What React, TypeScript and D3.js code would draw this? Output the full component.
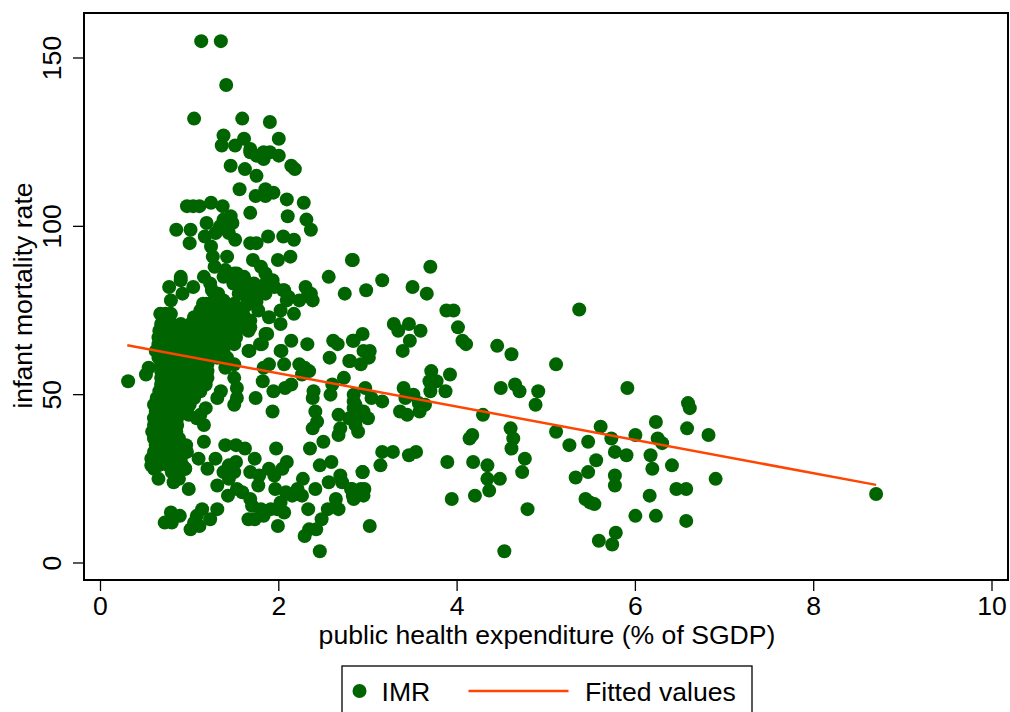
import React from "react";
import * as d3 from "d3";

type P = [number, number];

const xTicks = [0, 2, 4, 6, 8, 10];
const yTicks = [0, 50, 100, 150];
const xTitle = "public health expenditure (% of SGDP)";
const yTitle = "infant mortality rate";
const legendLabels = ["IMR", "Fitted values"];
const fitted: P[] = [[0.3, 64.7], [8.7, 23.2]];

const imrHigh: P[] = [[1.13,155],[1.35,155],[1.41,142],[1.05,132],[1.59,132],[1.9,131],[1.38,127],[2,126],[1.36,124],[1.51,124],[1.61,126],[1.68,123],[1.68,122],[1.75,121],[1.83,120],[1.83,122],[1.9,122],[2,121],[2.14,118],[2.18,117],[1.46,118],[1.62,117],[1.75,115],[1.56,111],[1.85,111],[1.94,110],[1.74,109],[1.85,109],[2.09,108],[2.28,107],[0.97,106],[1.04,106],[1.11,106],[1.24,107],[1.37,106],[1.68,104],[2.1,103],[2.31,102],[2.36,99],[0.85,99],[1.01,99],[1.19,101],[1.46,103],[1.48,101],[1.38,102],[1.34,100],[1.42,99],[1,95],[1.17,97],[1.29,98],[1.44,98],[1.51,96],[1.68,95],[1.75,95],[1.88,97],[2.05,97],[2.17,96],[1.24,94],[1.26,91],[1.42,91],[1.71,90],[1.99,90],[2.13,91],[2.82,90],[1.28,88],[1.4,87],[1.5,86],[1.61,85],[1.8,88],[1.85,86],[1.93,84],[2.56,85],[0.9,85],[1.16,85],[1.23,83],[0.77,82],[1.04,82],[1.38,85],[1.57,83],[1.72,83],[2.06,81],[2.3,82],[2.74,80],[0.9,84],[0.92,80],[0.79,78],[2.36,80],[2.38,78],[2.11,79],[2.23,78],[2.17,74],[2.02,75],[1.89,73],[2.02,71],[0.73,74],[0.67,74],[0.79,74]];

const imrCluster: P[] = [[1.83,82.5],[1.73,80],[1.85,80],[1.64,82],[1.64,79],[1.75,77.6],[1.64,76.6],[1.77,75],[1.55,80],[1.49,83],[1.42,85.5],[1.32,80],[1.27,78],[1.19,77],[1.38,78],[1.49,76],[1.6,74],[1.68,72],[2.05,81],[2.33,80],[2.09,78],[1.95,82],[1.25,81],[1.53,86],[1.79,65],[1.85,68],[1.66,63],[2.02,63]];

const imrDenseUpper: P[] = [[1.15,77],[1.27,77],[1.38,77],[1.5,77],[1.12,75],[1.23,75],[1.35,75],[1.46,75],[1.57,75],[1.05,73],[1.16,73],[1.27,73],[1.38,73],[1.5,73],[1.6,73],[0.68,71],[0.79,71],[0.9,71],[1.01,71],[1.12,71],[1.23,71],[1.35,71],[1.46,71],[1.57,71],[0.66,69],[0.76,69],[0.87,69],[0.98,69],[1.09,69],[1.2,69],[1.31,69],[1.42,69],[1.53,69],[1.66,69],[0.65,67],[0.75,67],[0.86,67],[0.97,67],[1.08,67],[1.19,67],[1.3,67],[1.41,67],[1.52,67],[0.65,65],[0.72,65],[0.83,65],[0.94,65],[1.05,65],[1.16,65],[1.27,65],[1.38,65],[1.5,65],[0.62,63],[0.72,63],[0.83,63],[0.94,63],[1.05,63],[1.16,63],[1.27,63],[1.38,63],[0.65,61],[0.76,61],[0.87,61],[0.98,61],[1.09,61],[1.2,61],[1.31,61],[1.42,61]];

const imrDenseLower: P[] = [[0.68,59],[0.76,59],[0.85,59],[0.94,59],[1.03,59],[1.12,59],[1.2,59],[0.68,57],[0.76,57],[0.85,57],[0.94,57],[1.03,57],[1.12,57],[1.2,57],[0.68,55],[0.76,55],[0.85,55],[0.94,55],[1.03,55],[1.12,55],[1.2,55],[0.68,53],[0.76,53],[0.85,53],[0.94,53],[1.03,53],[1.12,53],[1.18,53],[0.66,51],[0.75,51],[0.84,51],[0.93,51],[1.02,51],[1.12,51],[0.63,49],[0.72,49],[0.81,49],[0.9,49],[0.99,49],[1.05,49],[0.6,47],[0.68,47],[0.76,47],[0.85,47],[0.94,47],[1,47],[0.62,45],[0.7,45],[0.78,45],[0.86,45],[0.6,43],[0.68,43],[0.76,43],[0.86,43],[0.6,41],[0.68,41],[0.76,41],[0.86,41],[0.58,39],[0.65,39],[0.73,39],[0.85,39],[0.6,37],[0.68,37],[0.76,37],[0.88,37],[0.62,35],[0.7,35],[0.78,35],[0.86,35],[0.96,35],[0.6,33],[0.68,33],[0.76,33],[0.86,33],[0.97,33],[0.57,31],[0.65,31],[0.73,31],[0.84,31],[0.9,31],[0.57,29],[0.65,29],[0.76,29],[0.84,29],[0.92,29],[0.6,28],[0.8,28],[0.88,28],[0.95,28],[0.8,27],[0.87,27]];

const imrMiddle: P[] = [[0.54,58],[0.51,56],[0.31,54],[1.5,59],[1.4,58],[1.5,55],[1.53,52],[1.53,49],[1.5,47],[1.35,51],[1.31,49],[1.74,49],[1.93,45],[1.82,54],[1.94,51],[2.07,52],[2.14,53],[1.89,59],[1.83,58],[2.06,59],[2.23,59],[2.29,58],[2.34,57],[2.26,56],[2.03,63],[2.14,66],[2.32,65],[2.57,61],[2.61,66],[2.66,65],[2.83,66],[2.79,60],[2.73,55],[2.6,53],[2.58,50],[2.39,51],[2.38,49],[2.41,45],[2.43,42],[2.38,40],[2.67,44],[2.69,40],[2.67,38],[2.79,43],[2.86,41],[2.86,47],[2.92,45],[2.5,36],[2.35,34],[1.67,63],[1.81,65],[1.87,68],[1.68,70],[1.18,46],[1.12,44],[1.16,41],[0.99,44],[1.08,43]];

const imrLow: P[] = [[1.16,36],[1.4,35],[1.52,35],[1.62,34],[1.97,34],[1.73,31],[2.09,30],[1.29,31],[1.1,31],[1.2,28],[1.52,30],[1.44,29],[1.38,27],[1.5,27],[1.44,25],[1.31,23],[0.99,22],[0.65,25],[0.82,24],[0.88,25],[0.95,28],[1.68,27],[1.78,26],[1.89,28],[1.95,26],[2.04,28],[1.77,23],[2.27,25],[2.21,22],[1.96,22],[2.08,21],[2.15,20],[2.26,20],[2.41,22],[2.46,29],[2.59,30],[2.56,24],[2.69,26],[2.71,24],[2.81,22],[2.92,22],[2.83,20],[2.64,19],[2.67,16],[2.33,16],[2.55,16],[2.48,13],[2.42,10],[2.34,10],[2.29,8],[2.46,3.5],[2.94,27],[1.43,20],[1.53,22],[1.59,21],[1.68,19],[1.7,17],[1.83,14],[1.8,16],[1.91,16],[2.02,18],[2.06,15],[1.98,16],[1.66,13],[1.73,13],[1.99,11],[0.79,15],[0.89,14],[0.72,12],[0.8,12],[1.14,16],[1.08,14],[1.31,16],[1.23,13],[1.11,11],[1.01,10],[1.05,12]];

const imrRightCluster: P[] = [[2.83,90],[3.16,84],[2.98,81],[3.5,82],[3.66,80],[3.7,88],[3.88,75],[3.96,75],[4.01,70],[4.06,66],[4.1,65],[3.29,71],[3.34,69],[3.46,71],[3.59,69],[3.47,66],[3.39,63],[4.45,64.5],[4.61,62],[5.37,75.3],[5.11,59],[2.94,68],[2.84,66],[2.95,63],[3.02,63],[3.01,61],[2.92,59],[2.8,60],[3.71,57],[3.92,56],[3.77,54],[3.69,54],[3.7,51],[3.87,51],[3.4,52],[3.51,50],[3.42,49],[3.57,47.5],[3.64,47],[3.58,45],[3.36,45],[3.44,44],[3.16,48],[3.04,49],[2.97,52],[2.84,48],[2.95,45],[3,43],[2.86,42],[2.89,39],[2.84,50],[2.84,46],[4.29,44],[4.49,52],[4.65,53],[4.7,51],[4.91,51],[4.88,47],[5.91,52],[4.6,40],[4.63,37],[4.61,34],[4.76,31],[4.73,27],[4.17,38],[4.14,37],[3.16,33],[3.28,33],[3.14,29],[3.46,32],[3.54,33],[2.94,27],[2.96,22],[2.95,20],[2.82,22],[2.84,19],[3.89,30],[4.18,30],[4.34,29],[4.34,25],[4.48,25],[4.36,21.5],[4.2,20],[3.94,19],[4.79,16],[3.02,11],[4.53,3.5]];

const imrFar: P[] = [[5.11,39],[5.26,35],[5.47,36],[5.61,40.5],[5.73,37],[5.77,33],[5.9,32],[6,38],[5.56,30.5],[5.47,27],[5.33,25.4],[5.77,26],[5.77,23],[5.44,19],[5.49,18],[5.54,17.5],[6,14],[5.78,9],[5.59,6.6],[5.74,5.5],[6.23,41.9],[6.17,32],[6.19,28],[6.25,37],[6.3,35.6],[6.41,29],[6.16,20],[6.23,14],[6.46,22],[6.57,22],[6.57,12.5],[6.59,47.5],[6.61,46],[6.58,40],[6.82,38],[6.9,25],[8.7,20.5]];

const imrAll: P[] = [...imrHigh, ...imrCluster, ...imrDenseUpper, ...imrDenseLower, ...imrMiddle, ...imrLow, ...imrRightCluster, ...imrFar];

const GREEN = "#006400";
const ORANGE = "#ff4500";
const FONT = "'Liberation Sans', Arial, sans-serif";
const FS = 26.6;
const R = 7;

export default function App() {
  const x = d3.scaleLinear().domain([0, 10]).range([100.5, 992]);
  const y = d3.scaleLinear().domain([0, 150]).range([563, 58]);
  const line = d3.line<P>().x((d) => x(d[0])).y((d) => y(d[1]));
  const frame = { l: 84, r: 1008, t: 13, b: 580 };
  return (
    <svg width={1010} height={712} style={{ position: "absolute", left: 0, top: 0, background: "#fff" }} fontFamily={FONT} fontSize={FS} fill="#000">
      <rect x={frame.l} y={frame.t} width={frame.r - frame.l} height={frame.b - frame.t} fill="#fff" stroke="#000" strokeWidth={2} />
      <g fill={GREEN}>
        {imrAll.map((d, i) => (
          <circle key={i} cx={x(d[0])} cy={y(d[1])} r={R} />
        ))}
      </g>
      <path d={line(fitted) ?? ""} fill="none" stroke={ORANGE} strokeWidth={2.5} />
      {xTicks.map((t) => (
        <g key={t}>
          <line x1={x(t)} x2={x(t)} y1={frame.b} y2={frame.b + 11} stroke="#000" strokeWidth={1.3} />
          <text x={x(t)} y={615} textAnchor="middle">{t}</text>
        </g>
      ))}
      {yTicks.map((t) => (
        <g key={t}>
          <line x1={frame.l - 11} x2={frame.l} y1={y(t)} y2={y(t)} stroke="#000" strokeWidth={1.3} />
          <text transform={`translate(61,${y(t)}) rotate(-90)`} textAnchor="middle">{t}</text>
        </g>
      ))}
      <text x={547} y={644} textAnchor="middle">{xTitle}</text>
      <text transform={`translate(31.5,295.5) rotate(-90)`} textAnchor="middle">{yTitle}</text>
      <rect x={342} y={666} width={410} height={60} fill="#fff" stroke="#000" strokeWidth={1.3} />
      <circle cx={359.5} cy={691} r={R} fill={GREEN} />
      <text x={381.5} y={700.5}>{legendLabels[0]}</text>
      <line x1={468.5} x2={568.5} y1={691} y2={691} stroke={ORANGE} strokeWidth={2.5} />
      <text x={585} y={700.5}>{legendLabels[1]}</text>
    </svg>
  );
}
